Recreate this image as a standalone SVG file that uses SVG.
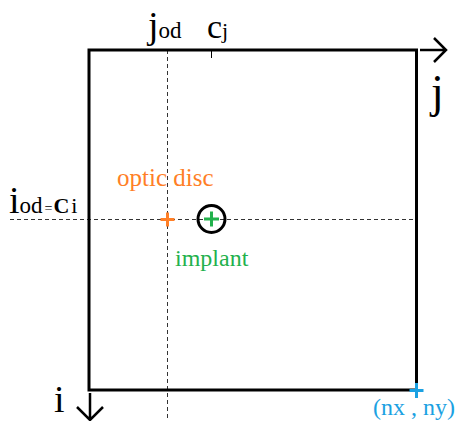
<svg xmlns="http://www.w3.org/2000/svg" width="460" height="421" viewBox="0 0 460 421">
<defs>
<style>
text{font-family:'Liberation Serif','Times New Roman',serif;}
.dash{stroke:#333;stroke-width:1;stroke-dasharray:4,3;fill:none;}
.ax{stroke:#000;stroke-width:2.5;fill:none;}
.plus{stroke-width:3;fill:none;}
</style>
</defs>
<rect width="460" height="421" fill="#fff"/>
<g id="connectors">
<line class="dash" x1="167.5" y1="50" x2="167.5" y2="421"/>
<line class="dash" x1="10" y1="219.5" x2="416" y2="219.5"/>
<line x1="211.5" y1="50" x2="211.5" y2="58" stroke="#000" stroke-width="1"/>
<path d="M420,50 L445,50 M434,38 L446,50 L434,62" class="ax"/>
<path d="M90,393 L90,419 M77,407 L90,420 L103,407" class="ax"/>
</g>
<g id="frame">
<rect x="89" y="50" width="327.5" height="340" fill="none" stroke="#000" stroke-width="3"/>
</g>
<g id="labels">
<text x="148" y="38" font-size="38">j<tspan font-size="23">od</tspan></text>
<text x="207" y="38" font-size="34">c<tspan font-size="22">j</tspan></text>
<text x="431" y="107" font-size="46">j</text>
<text x="54" y="412" font-size="38">i</text>
<text x="9" y="213" font-size="38">i<tspan font-size="23">od</tspan><tspan font-size="14" dx="2">=</tspan><tspan font-size="22" font-weight="bold" dx="1">C</tspan><tspan font-size="22" dx="2">i</tspan></text>
</g>
<g id="optic-disc">
<text x="117" y="186" font-size="25" fill="#FF7F27">optic disc</text>
<path d="M160.5,219.5 L174.5,219.5 M167.5,212.5 L167.5,226.5" class="plus" stroke="#FF7F27"/>
</g>
<g id="implant">
<circle cx="211.5" cy="219" r="13.5" fill="none" stroke="#000" stroke-width="3"/>
<path d="M204,219 L219,219 M211.5,211.5 L211.5,226.5" class="plus" stroke="#22B14C"/>
<text x="175" y="266" font-size="24" fill="#22B14C">implant</text>
</g>
<g id="corner">
<path d="M409.5,390.5 L423.5,390.5 M416.5,383 L416.5,398" class="plus" stroke="#1BA1E2"/>
<text x="373" y="415" font-size="24" fill="#1BA1E2">(nx , ny)</text>
</g>
</svg>
